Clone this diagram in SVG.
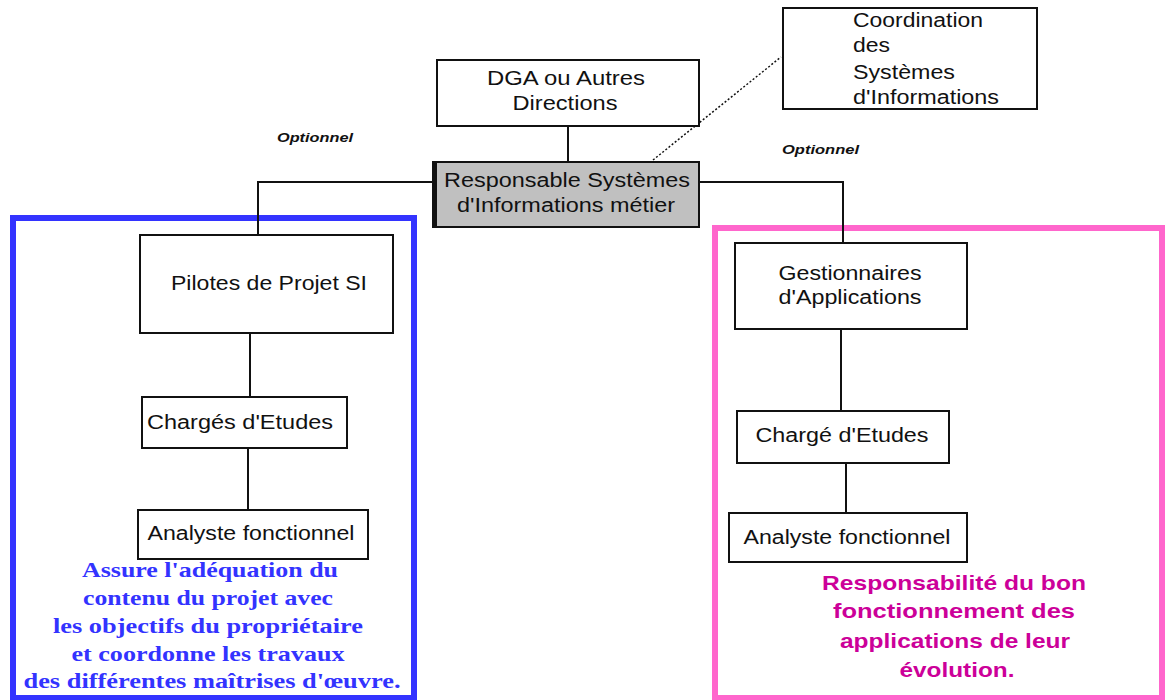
<svg xmlns="http://www.w3.org/2000/svg" width="1166" height="700" viewBox="0 0 1166 700">
<style>
.box{fill:#fff;stroke:#111;stroke-width:2}
.lbl{font-family:"Liberation Sans",Arial,sans-serif;font-size:20px;fill:#111;text-anchor:middle}
.lft{text-anchor:start}
.opt{font-family:"Liberation Sans",Arial,sans-serif;font-size:13px;font-weight:bold;font-style:italic;fill:#111;text-anchor:start}
.ln{stroke:#111;stroke-width:2;fill:none}
.bt{font-family:"Liberation Serif","Times New Roman",serif;font-size:22px;font-weight:bold;fill:#3333ff;text-anchor:middle}
.pt{font-family:"Liberation Sans",Arial,sans-serif;font-size:21px;font-weight:bold;fill:#cc0099;text-anchor:middle}
</style>
<rect width="1166" height="700" fill="#fff"/>
<g id="frames">
<rect x="13" y="218" width="401" height="480" fill="none" stroke="#3333ff" stroke-width="6"/>
<rect x="715" y="228" width="447" height="470" fill="none" stroke="#ff66cc" stroke-width="6"/>
</g>
<g id="connectors">
<line class="ln" x1="568" y1="126" x2="568" y2="162"/>
<line x1="653" y1="160" x2="781" y2="57" stroke="#111" stroke-width="1.5" stroke-dasharray="2,2"/>
<polyline class="ln" points="433,182 258,182 258,235"/>
<polyline class="ln" points="699,182 843,182 843,243"/>
<line class="ln" x1="250" y1="333" x2="250" y2="397"/>
<line class="ln" x1="248" y1="448" x2="248" y2="510"/>
<line class="ln" x1="841" y1="329" x2="841" y2="411"/>
<line class="ln" x1="846" y1="463" x2="846" y2="513"/>
</g>
<g id="dga">
<rect class="box" x="437" y="60" width="262" height="66"/>
<text class="lbl" x="566" y="85" textLength="158" lengthAdjust="spacingAndGlyphs">DGA ou Autres</text>
<text class="lbl" x="565" y="110" textLength="105" lengthAdjust="spacingAndGlyphs">Directions</text>
</g>
<g id="coordination">
<rect class="box" x="783" y="8" width="254" height="101"/>
<text class="lbl lft" x="853" y="27" textLength="130" lengthAdjust="spacingAndGlyphs">Coordination</text>
<text class="lbl lft" x="853" y="52" textLength="37" lengthAdjust="spacingAndGlyphs">des</text>
<text class="lbl lft" x="853" y="79" textLength="102" lengthAdjust="spacingAndGlyphs">Systèmes</text>
<text class="lbl lft" x="853" y="104" textLength="146" lengthAdjust="spacingAndGlyphs">d'Informations</text>
</g>
<g id="responsable">
<rect x="433" y="162" width="266" height="65" fill="#c0c0c0" stroke="#111" stroke-width="2"/>
<rect x="432" y="162" width="5" height="65" fill="#111"/>
<text class="lbl" x="567" y="187" textLength="246" lengthAdjust="spacingAndGlyphs">Responsable Systèmes</text>
<text class="lbl" x="566" y="212" textLength="218" lengthAdjust="spacingAndGlyphs">d'Informations métier</text>
</g>
<g id="optionnel-left">
<text class="opt" x="277" y="142" textLength="76" lengthAdjust="spacingAndGlyphs">Optionnel</text>
</g>
<g id="optionnel-right">
<text class="opt" x="782" y="154" textLength="77" lengthAdjust="spacingAndGlyphs">Optionnel</text>
</g>
<g id="pilotes">
<rect class="box" x="140" y="235" width="253" height="98"/>
<text class="lbl" x="269" y="290" textLength="196" lengthAdjust="spacingAndGlyphs">Pilotes de Projet SI</text>
</g>
<g id="charges-left">
<rect class="box" x="142" y="397" width="205" height="51"/>
<text class="lbl" x="240" y="429" textLength="186" lengthAdjust="spacingAndGlyphs">Chargés d'Etudes</text>
</g>
<g id="analyste-left">
<rect class="box" x="138" y="510" width="230" height="49"/>
<text class="lbl" x="251" y="540" textLength="207" lengthAdjust="spacingAndGlyphs">Analyste fonctionnel</text>
</g>
<g id="gestionnaires">
<rect class="box" x="735" y="243" width="232" height="86"/>
<text class="lbl" x="850" y="280" textLength="143" lengthAdjust="spacingAndGlyphs">Gestionnaires</text>
<text class="lbl" x="850" y="304" textLength="143" lengthAdjust="spacingAndGlyphs">d'Applications</text>
</g>
<g id="charge-right">
<rect class="box" x="737" y="411" width="212" height="52"/>
<text class="lbl" x="842" y="442" textLength="173" lengthAdjust="spacingAndGlyphs">Chargé d'Etudes</text>
</g>
<g id="analyste-right">
<rect class="box" x="729" y="513" width="238" height="49"/>
<text class="lbl" x="847" y="544" textLength="207" lengthAdjust="spacingAndGlyphs">Analyste fonctionnel</text>
</g>
<g id="note-blue">
<text class="bt" x="210" y="577" textLength="256" lengthAdjust="spacingAndGlyphs">Assure l'adéquation du</text>
<text class="bt" x="208" y="605" textLength="250" lengthAdjust="spacingAndGlyphs">contenu du projet avec</text>
<text class="bt" x="208" y="633" textLength="310" lengthAdjust="spacingAndGlyphs">les objectifs du propriétaire</text>
<text class="bt" x="208" y="661" textLength="273" lengthAdjust="spacingAndGlyphs">et coordonne les travaux</text>
<text class="bt" x="212" y="688" textLength="377" lengthAdjust="spacingAndGlyphs">des différentes maîtrises d'œuvre.</text>
</g>
<g id="note-pink">
<text class="pt" x="954" y="590" textLength="264" lengthAdjust="spacingAndGlyphs">Responsabilité du bon</text>
<text class="pt" x="954" y="618" textLength="242" lengthAdjust="spacingAndGlyphs">fonctionnement des</text>
<text class="pt" x="955" y="648" textLength="230" lengthAdjust="spacingAndGlyphs">applications de leur</text>
<text class="pt" x="957" y="677" textLength="115" lengthAdjust="spacingAndGlyphs">évolution.</text>
</g>
</svg>
